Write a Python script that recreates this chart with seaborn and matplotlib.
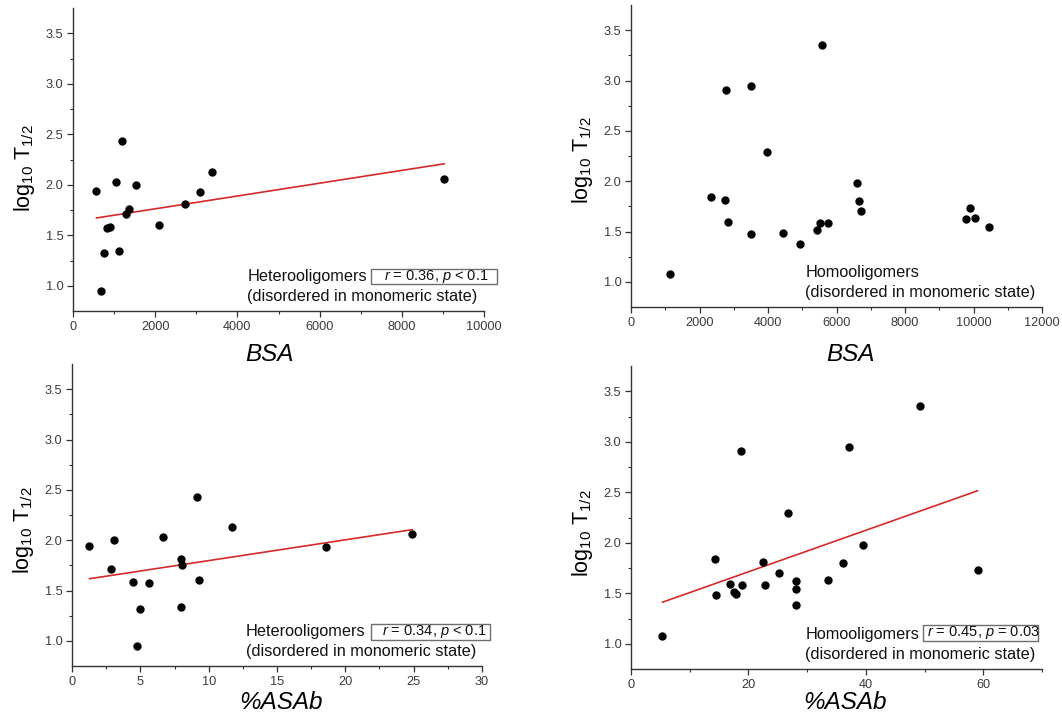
import numpy as np
import pandas as pd
import matplotlib
matplotlib.use("Agg")
import matplotlib.pyplot as plt
from matplotlib.patches import Rectangle
from matplotlib.ticker import MultipleLocator, FixedLocator, FormatStrFormatter
import seaborn as sns

# log10 half-life of proteins forming heterooligomers / homooligomers
logt_hetero = [1.94, 2.43, 2.03, 2.00, 1.32, 0.95, 1.34, 1.57, 1.585, 1.71,
               1.755, 1.60, 1.81, 1.93, 2.13, 2.06]
bsa_hetero = [567, 1182, 1045, 1522, 745, 688, 1109, 818, 899, 1287,
              1368, 2089, 2729, 3093, 3377, 9036]
asab_hetero = [1.27, 9.17, 6.68, 3.07, 4.95, 4.78, 7.98, 5.66, 4.49, 2.88,
               8.07, 9.29, 7.98, 18.59, 11.68, 24.90]

logt_homo = [1.08, 1.84, 1.81, 1.59, 2.91, 2.95, 1.48, 2.29, 1.49, 1.38,
             3.35, 1.51, 1.58, 1.58, 1.98, 1.80, 1.70, 1.62, 1.73, 1.63, 1.54]
bsa_homo = [1148, 2336, 2754, 2822, 2764, 3513, 3513, 3980, 4448, 4934,
            5586, 5421, 5528, 5742, 6608, 6647, 6725, 9790, 9897, 10034, 10462]
asab_homo = [5.34, 14.30, 22.42, 16.92, 18.68, 37.12, 14.53, 26.79, 17.82, 28.15,
             49.27, 17.48, 18.90, 22.76, 39.45, 36.10, 25.20, 28.10, 59.03, 33.60, 28.15]

group_names = ["Heterooligomers", "Homooligomers"]
stat_labels = [r"$\mathit{r}$ = 0.36, $\mathit{p}$ < 0.1",
               None,
               r"$\mathit{r}$ = 0.34, $\mathit{p}$ < 0.1",
               r"$\mathit{r}$ = 0.45, $\mathit{p}$ = 0.03"]
subtitle = "(disordered in monomeric state)"
x_labels = ["BSA", "BSA", "%ASAb", "%ASAb"]

sns.set_style("ticks")
plt.rcParams["font.family"] = ["Liberation Sans", "DejaVu Sans"]
plt.rcParams["mathtext.fontset"] = "custom"
plt.rcParams["mathtext.rm"] = "Liberation Sans"
plt.rcParams["mathtext.it"] = "Liberation Sans:italic"
plt.rcParams["mathtext.default"] = "regular"

fig = plt.figure(figsize=(10.62, 7.19), dpi=100)
W, H = 1062, 719


def add_axes_px(left, top, right, bottom):
    return fig.add_axes([left / W, 1 - bottom / H, (right - left) / W, (bottom - top) / H])


axes = [
    add_axes_px(73, 8, 484, 311),
    add_axes_px(631, 5, 1042, 307),
    add_axes_px(72, 364, 482, 666),
    add_axes_px(631, 366, 1042, 669),
]

panels = [
    (bsa_hetero, logt_hetero, True, (0, 10000), 2000, 1000),
    (bsa_homo, logt_homo, False, (0, 12000), 2000, 1000),
    (asab_hetero, logt_hetero, True, (0, 30), 5, 2.5),
    (asab_homo, logt_homo, True, (0, 70), None, None),
]

# label placement (axes fraction)
xlabel_pos = [(0.477, -0.105), (0.534, -0.118), (0.511, -0.082), (0.52, -0.072)]
ylabel_pos = [(-0.087, 0.47), (-0.087, 0.485), (-0.087, 0.45), (-0.087, 0.45)]
# stat box: (box x, box y, box w, box h, text x, text y)
box_geom = {0: (0.725, 0.0891, 0.3066, 0.0495, 0.757, 0.114),
            2: (0.729, 0.0861, 0.290, 0.053, 0.755, 0.1126),
            3: (0.7105, 0.0924, 0.280, 0.0528, 0.7195, 0.119)}
tick_color = "#3a3a3a"

for i, (ax, (xv, yv, fit, xlim, major, minor)) in enumerate(zip(axes, panels)):
    df = pd.DataFrame({"x": xv, "y": yv})
    if fit:
        sns.regplot(data=df, x="x", y="y", ax=ax, ci=None, truncate=True,
                    scatter_kws=dict(s=36, color="black", alpha=1, linewidths=0, zorder=3),
                    line_kws=dict(color="#d42a2a", lw=1.2, zorder=2))
    else:
        sns.scatterplot(data=df, x="x", y="y", ax=ax, s=36, color="black",
                        alpha=1, linewidth=0, zorder=3)
    ax.set_xlim(*xlim)
    ax.set_ylim(0.75, 3.75)
    if major is not None:
        ax.xaxis.set_major_locator(MultipleLocator(major))
        ax.xaxis.set_minor_locator(MultipleLocator(minor))
    else:
        ax.xaxis.set_major_locator(FixedLocator([0, 20, 40, 60]))
        ax.xaxis.set_minor_locator(FixedLocator([10, 30, 50, 70]))
    ax.yaxis.set_major_locator(FixedLocator([1.0, 1.5, 2.0, 2.5, 3.0, 3.5]))
    ax.yaxis.set_minor_locator(FixedLocator([1.25, 1.75, 2.25, 2.75, 3.25]))
    ax.yaxis.set_major_formatter(FormatStrFormatter("%.1f"))
    ax.xaxis.set_major_formatter(FormatStrFormatter("%g"))
    ax.tick_params(which="major", direction="out", length=4, width=0.9,
                   color="#333333", labelsize=9.2, labelcolor=tick_color, pad=3)
    ax.tick_params(which="minor", direction="out", length=2.5, width=0.8, color="#333333")
    sns.despine(ax=ax)
    for side in ("left", "bottom"):
        ax.spines[side].set_color("#333333")
        ax.spines[side].set_linewidth(1.0)
    ax.set_facecolor("white")

    ax.set_xlabel(x_labels[i], fontsize=17.5, style="italic", color="black")
    ax.xaxis.set_label_coords(*xlabel_pos[i])
    ax.set_ylabel(r"log$_{10}$ T$_{1/2}$", fontsize=15.5, color="black")
    ax.yaxis.set_label_coords(*ylabel_pos[i])

    name = group_names[0] if i in (0, 2) else group_names[1]
    ax.text(0.424, 0.113, name, transform=ax.transAxes, ha="left", va="center",
            fontsize=11.7, color="#111111")
    ax.text(0.424, 0.049, subtitle, transform=ax.transAxes, ha="left", va="center",
            fontsize=11.7, color="#111111")
    if stat_labels[i] is not None:
        bx, by, bw, bh, tx, ty = box_geom[i]
        ax.add_patch(Rectangle((bx, by), bw, bh, transform=ax.transAxes, fill=False,
                               ec="#6e6e6e", lw=1.0, clip_on=False, zorder=4))
        ax.text(tx, ty, stat_labels[i], transform=ax.transAxes, ha="left",
                va="center", fontsize=10.5, color="#111111", clip_on=False, zorder=5)

fig.savefig("out.png", dpi=100, facecolor="white")
